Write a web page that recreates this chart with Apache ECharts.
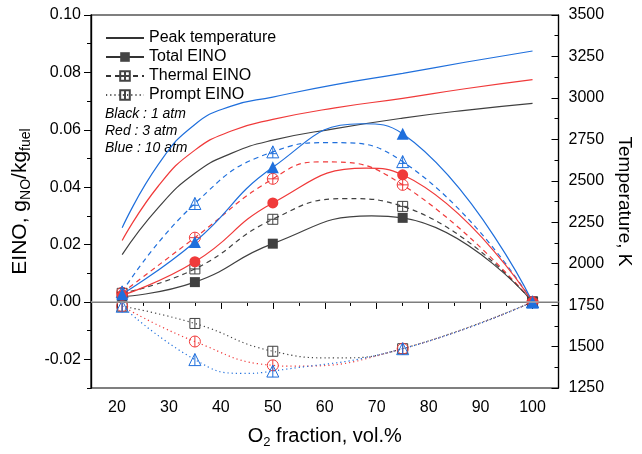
<!DOCTYPE html>
<html>
<head>
<meta charset="utf-8">
<script src="https://cdn.jsdelivr.net/npm/echarts@6/dist/echarts.min.js"></script>
<style>
  html, body { margin: 0; padding: 0; background: #fff; }
  #chart { width: 642px; height: 454px; }
</style>
</head>
<body>
<div id="chart"></div>
<script>
// O2 fraction (vol.%) at which the cases were computed (markers)
const o2Fraction = [21, 35, 50, 75, 100];

// peak temperature, K (right axis)
const tempX = [21, 28, 35, 42, 50, 62, 75, 87, 100];
const tempBlack = [2055, 2340, 2545, 2665, 2745, 2815, 2878, 2925, 2967];
const tempRed = [2140, 2470, 2685, 2800, 2870, 2940, 2997, 3055, 3110];
const tempBlue = [2217, 2600, 2840, 2950, 3005, 3080, 3148, 3215, 3283];

// EINO, g_NO/kg_fuel (left axis) at the markers
const totalBlack = [0.0018, 0.0069, 0.0203, 0.0293, 0];
const totalRed = [0.0023, 0.0140, 0.0345, 0.0443, 0];
const totalBlue = [0.0027, 0.0209, 0.0469, 0.0586, 0];
const thermalBlack = [0.0030, 0.0115, 0.0288, 0.0333, 0];
const thermalRed = [0.0032, 0.0224, 0.0429, 0.0408, 0];
const thermalBlue = [0.0035, 0.0343, 0.0523, 0.0489, 0];
const promptBlack = [-0.0015, -0.0075, -0.0172, -0.0163, 0];
const promptRed = [-0.0015, -0.0138, -0.0221, -0.0163, 0];
const promptBlue = [-0.0015, -0.0201, -0.0241, -0.0163, 0];

// turning points of each curve between markers [x, y]
const totalBlackTurn = [69, 0.0300];
const totalRedTurn = [68, 0.0466];
const totalBlueTurn = [67, 0.0621];
const thermalBlackTurn = [64, 0.0360];
const thermalRedTurn = [59, 0.0488];
const thermalBlueTurn = [61, 0.0555];
const promptBlackTurn = [62, -0.0195];
const promptRedTurn = [54, -0.0224];
const promptBlueTurn = [44, -0.0249];

// tick labels
const xTicks = [20, 30, 40, 50, 60, 70, 80, 90, 100];
const yLeftTicks = [-0.02, 0.00, 0.02, 0.04, 0.06, 0.08, 0.10];
const legendNames = ['Peak temperature', 'Total EINO', 'Thermal EINO', 'Prompt EINO'];
const noteLines = ['Black : 1 atm', 'Red : 3 atm', 'Blue : 10 atm'];

const BLACK = '#404040';
const RED = '#f03a3a';
const BLUE = '#1f6fdc';
const FONT = "'Liberation Sans', Arial, sans-serif";

const SQ_CROSS = 'path://M0,0L10,0L10,10L0,10ZM5,0L5,10M0,5L10,5';
const CI_CROSS = 'path://M0,5A5,5,0,1,1,10,5A5,5,0,1,1,0,5ZM5,0L5,10M0,5L10,5';
const TR_CROSS = 'path://M5,0L10,10L0,10ZM5,0L5,10M1.8,6.5L8.2,6.5';
const SQ_BAR = 'path://M0,0L10,0L10,10L0,10ZM5,0L5,10';
const CI_BAR = 'path://M0,5A5,5,0,1,1,10,5A5,5,0,1,1,0,5ZM5,0L5,10';
const TR_BAR = 'path://M5,0L10,10L0,10ZM5,0L5,10';

const DASH = [5, 4];
const DOT = [1.2, 3];

// marker points plus the unmarked turning point, in x order
const curveData = (ys, turn) => {
    const pts = o2Fraction.map((x, i) => ({ value: [x, ys[i]] }));
    pts.push({ value: turn, symbol: 'none' });
    return pts.sort((a, b) => a.value[0] - b.value[0]);
};

const tempLine = (ys, color) => ({
    type: 'line', yAxisIndex: 2, data: tempX.map((x, i) => [x, ys[i]]), smooth: true, symbol: 'none',
    lineStyle: { color: color, width: 1.2 }, z: 2
});

const totalLine = (ys, turn, color, symbol, size) => ({
    type: 'line', data: curveData(ys, turn), smooth: true, symbol: symbol, symbolSize: size,
    lineStyle: { color: color, width: 1.2 },
    itemStyle: { color: color }, z: 4
});

const openLine = (ys, turn, color, symbol, size, dash) => ({
    type: 'line', data: curveData(ys, turn), smooth: true, symbol: symbol, symbolSize: size,
    lineStyle: { color: color, width: 1.2, type: dash },
    itemStyle: { color: 'transparent', borderColor: color, borderWidth: 1 }, z: 3
});

const series = [
    // legend-only entries
    { name: legendNames[0], type: 'line', data: [], symbol: 'none', lineStyle: { color: '#333', width: 1 }, itemStyle: { color: 'rgba(0,0,0,0)', borderWidth: 0 } },
    { name: legendNames[1], type: 'line', data: [], symbol: 'rect', lineStyle: { color: '#333', width: 1 }, itemStyle: { color: '#444' } },
    { name: legendNames[2], type: 'line', data: [], symbol: SQ_CROSS, lineStyle: { color: '#333', width: 1, type: DASH }, itemStyle: { color: 'transparent', borderColor: '#444', borderWidth: 1 } },
    { name: legendNames[3], type: 'line', data: [], symbol: SQ_BAR, lineStyle: { color: '#555', width: 1, type: DOT }, itemStyle: { color: 'transparent', borderColor: '#444', borderWidth: 1 } },

    tempLine(tempBlack, BLACK),
    tempLine(tempRed, RED),
    tempLine(tempBlue, BLUE),

    Object.assign(totalLine(totalBlack, totalBlackTurn, BLACK, 'rect', 10), {
        markLine: {
            silent: true, symbol: 'none', label: { show: false },
            lineStyle: { color: '#a8a8a8', type: 'solid', width: 1.5 },
            data: [{ yAxis: 0 }]
        }
    }),
    totalLine(totalRed, totalRedTurn, RED, 'circle', 11),
    totalLine(totalBlue, totalBlueTurn, BLUE, 'triangle', 12),

    openLine(thermalBlack, thermalBlackTurn, BLACK, SQ_CROSS, 10, DASH),
    openLine(thermalRed, thermalRedTurn, RED, CI_CROSS, 11, DASH),
    openLine(thermalBlue, thermalBlueTurn, BLUE, TR_CROSS, 12, DASH),

    openLine(promptBlack, promptBlackTurn, BLACK, SQ_BAR, 10, DOT),
    openLine(promptRed, promptRedTurn, RED, CI_BAR, 11, DOT),
    openLine(promptBlue, promptBlueTurn, BLUE, TR_BAR, 12, DOT)
];

const axisLine = { show: true, lineStyle: { color: '#000', width: 1.2 } };

const chart = echarts.init(document.getElementById('chart'));
chart.setOption({
    animation: false,
    textStyle: { fontFamily: FONT },
    grid: { left: 91, right: 80, top: 15, bottom: 61, show: true, borderColor: '#000', borderWidth: 1.2 },
    legend: {
        data: legendNames, orient: 'vertical', left: 100, top: 25,
        itemWidth: 38, itemHeight: 12, itemGap: 3,
        textStyle: { fontSize: 16, color: '#000', fontFamily: FONT }
    },
    graphic: [{
        type: 'text', left: 105, top: 106,
        style: { text: noteLines.join('\n'), fontSize: 14, fontStyle: 'italic', lineHeight: 17, fill: '#000', fontFamily: FONT }
    }],
    xAxis: [{
        type: 'value', min: 15, max: 105, interval: 5,
        axisLine: axisLine, axisTick: { length: 4, lineStyle: { color: '#000' } },
        axisLabel: { show: false }, splitLine: { show: false }
    }, {
        type: 'value', position: 'bottom', min: 15, max: 105, interval: 5,
        axisLine: axisLine,
        axisTick: { length: 7, customValues: xTicks, lineStyle: { color: '#000' } },
        axisLabel: { customValues: xTicks, fontSize: 16, color: '#000', margin: 12, fontFamily: FONT },
        splitLine: { show: false },
        name: '{a|O}{s|2}{a| fraction, vol.%}', nameLocation: 'middle', nameGap: 36,
        nameTextStyle: {
            rich: {
                a: { fontSize: 20, fontFamily: FONT, color: '#000' },
                s: { fontSize: 13, fontFamily: FONT, color: '#000', verticalAlign: 'bottom', padding: [12, 0, 0, 0] }
            }
        }
    }],
    yAxis: [{
        type: 'value', min: -0.03, max: 0.10, interval: 0.01,
        axisLine: axisLine, axisTick: { length: 4, lineStyle: { color: '#000' } },
        axisLabel: { show: false }, splitLine: { show: false }
    }, {
        type: 'value', position: 'left', min: -0.03, max: 0.10, interval: 0.01,
        axisLine: axisLine,
        axisTick: { length: 7, customValues: yLeftTicks, lineStyle: { color: '#000' } },
        axisLabel: { customValues: yLeftTicks, fontSize: 16, color: '#000', margin: 10, fontFamily: FONT, formatter: (v) => v.toFixed(2) },
        splitLine: { show: false },
        name: '{a|EINO, g}{s|NO}{a|/kg}{s|fuel}', nameLocation: 'middle', nameGap: 52, nameRotate: 90,
        nameTextStyle: {
            rich: {
                a: { fontSize: 21, fontFamily: FONT, color: '#000' },
                s: { fontSize: 14, fontFamily: FONT, color: '#000', padding: [12, 0, 0, 0] }
            }
        }
    }, {
        type: 'value', position: 'right', min: 1250, max: 3500, interval: 250,
        axisLine: axisLine,
        axisTick: { inside: true, length: 7, lineStyle: { color: '#000' } },
        minorTick: { show: true, splitNumber: 2, length: 4, lineStyle: { color: '#000' } },
        axisLabel: { fontSize: 16, color: '#000', margin: 10, fontFamily: FONT, formatter: (v) => String(v) },
        splitLine: { show: false },
        name: 'Temperature, K', nameLocation: 'middle', nameGap: 52, nameRotate: -90,
        nameTextStyle: { fontSize: 19, color: '#000', fontFamily: FONT }
    }],
    series: series
});
</script>
</body>
</html>
